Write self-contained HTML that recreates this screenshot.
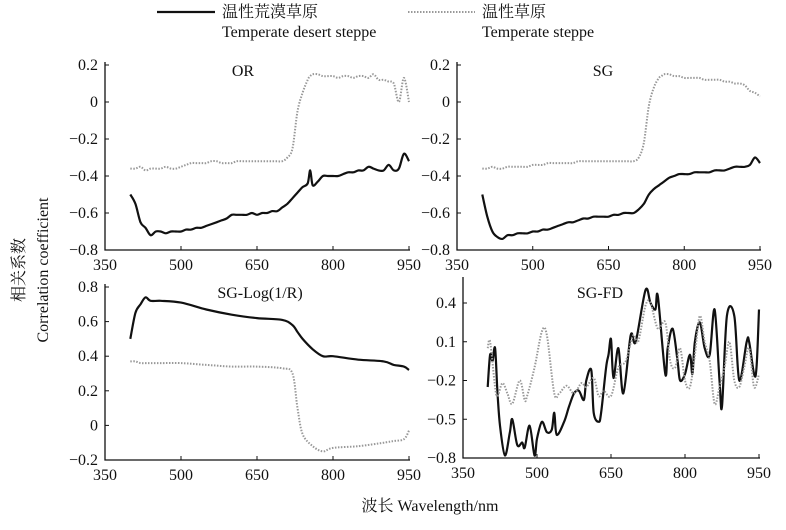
<!DOCTYPE html>
<html><head><meta charset="utf-8"><style>
body{margin:0;background:#fff}
svg text{font-family:"Liberation Serif","Noto Serif CJK SC",serif;fill:#111}
</style></head><body>
<svg id="c" width="786" height="525"></svg>
<script>
const xTicks=[350,500,650,800,950];
const orX=[400,410,420,430,440,450,460,470,480,490,500,510,520,530,540,550,560,570,580,590,600,610,620,630,640,650,660,670,680,690,700,710,720,730,740,750,755,760,770,780,790,800,810,820,830,840,850,860,870,880,890,900,910,920,930,940,950];
const orDesert=[-0.50,-0.55,-0.65,-0.68,-0.72,-0.70,-0.70,-0.71,-0.70,-0.70,-0.70,-0.69,-0.69,-0.68,-0.68,-0.67,-0.66,-0.65,-0.64,-0.63,-0.61,-0.61,-0.61,-0.61,-0.60,-0.61,-0.60,-0.60,-0.59,-0.59,-0.57,-0.55,-0.52,-0.49,-0.46,-0.44,-0.37,-0.45,-0.43,-0.40,-0.40,-0.40,-0.40,-0.39,-0.38,-0.38,-0.37,-0.37,-0.35,-0.36,-0.37,-0.37,-0.34,-0.37,-0.36,-0.28,-0.32];
const orSteppe=[-0.36,-0.36,-0.35,-0.37,-0.36,-0.36,-0.36,-0.35,-0.36,-0.36,-0.35,-0.34,-0.33,-0.33,-0.33,-0.33,-0.32,-0.32,-0.33,-0.33,-0.33,-0.32,-0.32,-0.32,-0.32,-0.32,-0.32,-0.32,-0.32,-0.32,-0.32,-0.30,-0.25,-0.05,0.05,0.12,0.14,0.15,0.15,0.14,0.14,0.14,0.13,0.14,0.14,0.13,0.14,0.14,0.13,0.15,0.12,0.12,0.11,0.10,0.00,0.13,0.00];
const sgDesert=[-0.50,-0.62,-0.70,-0.73,-0.74,-0.72,-0.72,-0.71,-0.71,-0.71,-0.70,-0.70,-0.69,-0.69,-0.68,-0.67,-0.66,-0.65,-0.65,-0.64,-0.63,-0.63,-0.62,-0.62,-0.62,-0.62,-0.61,-0.61,-0.60,-0.60,-0.60,-0.58,-0.55,-0.50,-0.47,-0.45,-0.44,-0.43,-0.41,-0.40,-0.39,-0.39,-0.39,-0.38,-0.38,-0.38,-0.38,-0.37,-0.37,-0.37,-0.36,-0.35,-0.35,-0.35,-0.34,-0.30,-0.33];
const sgSteppe=[-0.36,-0.36,-0.35,-0.36,-0.36,-0.35,-0.35,-0.35,-0.35,-0.35,-0.34,-0.34,-0.34,-0.33,-0.33,-0.33,-0.33,-0.33,-0.33,-0.32,-0.32,-0.32,-0.32,-0.32,-0.32,-0.32,-0.32,-0.32,-0.32,-0.32,-0.32,-0.30,-0.22,-0.02,0.08,0.13,0.14,0.15,0.15,0.14,0.14,0.13,0.13,0.13,0.13,0.12,0.12,0.12,0.12,0.11,0.11,0.10,0.10,0.09,0.06,0.05,0.03];
const logX=[400,410,420,430,440,460,500,550,600,650,700,720,730,740,760,780,800,850,900,920,940,950];
const logDesert=[0.50,0.65,0.70,0.74,0.72,0.72,0.71,0.67,0.64,0.62,0.61,0.58,0.54,0.50,0.44,0.40,0.40,0.38,0.37,0.35,0.34,0.32];
const logSteppe=[0.37,0.37,0.36,0.36,0.36,0.36,0.36,0.35,0.34,0.34,0.33,0.30,0.10,-0.05,-0.12,-0.15,-0.13,-0.12,-0.10,-0.09,-0.08,-0.03];
const fdDX=[400,405,410,415,420,425,435,445,450,460,470,475,485,495,500,510,520,530,535,540,555,565,575,585,595,600,610,615,625,630,640,645,650,655,665,675,690,700,720,730,740,745,760,765,775,785,790,800,810,815,820,830,840,850,860,870,875,885,900,910,925,930,940,945,950];
const fdDesert=[-0.25,0.0,-0.05,0.05,-0.3,-0.55,-0.78,-0.6,-0.5,-0.7,-0.68,-0.72,-0.55,-0.78,-0.65,-0.52,-0.6,-0.58,-0.45,-0.62,-0.52,-0.4,-0.3,-0.28,-0.35,-0.2,-0.12,-0.45,-0.52,-0.45,-0.1,0.0,0.12,-0.18,0.05,-0.3,0.15,0.1,0.5,0.4,0.35,0.45,-0.15,0.05,0.2,-0.05,-0.2,-0.15,0.0,-0.15,0.1,0.25,0.05,0.0,0.35,-0.2,-0.4,0.3,0.3,-0.2,0.1,0.1,-0.15,-0.1,0.35];
const fdSX=[400,405,415,420,430,440,450,465,475,480,495,510,520,535,545,560,575,590,600,615,625,635,650,665,680,695,705,720,730,745,760,770,780,790,800,810,820,830,840,850,860,870,880,890,900,910,920,930,940,950];
const fdSteppe=[0.05,0.1,-0.25,-0.32,-0.22,-0.3,-0.38,-0.2,-0.35,-0.32,-0.1,0.18,0.15,-0.3,-0.3,-0.24,-0.3,-0.22,-0.25,-0.18,-0.32,-0.28,-0.32,-0.1,-0.05,0.15,0.1,0.38,0.4,0.2,0.25,-0.05,-0.1,0.05,-0.2,-0.25,0.0,0.3,0.1,-0.05,-0.38,-0.25,-0.1,0.1,-0.2,-0.25,-0.1,0.05,-0.25,-0.15];

const NS='http://www.w3.org/2000/svg';
const svg=document.getElementById('c');
function mk(t,a,p){const e=document.createElementNS(NS,t);for(const k in a)e.setAttribute(k,a[k]);(p||svg).appendChild(e);return e;}
function smooth(pts){
 let d='M'+pts[0][0].toFixed(1)+','+pts[0][1].toFixed(1);
 for(let i=0;i<pts.length-1;i++){
  const p0=pts[i-1]||pts[i],p1=pts[i],p2=pts[i+1],p3=pts[i+2]||p2;
  const c1=[p1[0]+(p2[0]-p0[0])/6,p1[1]+(p2[1]-p0[1])/6];
  const c2=[p2[0]-(p3[0]-p1[0])/6,p2[1]-(p3[1]-p1[1])/6];
  d+='C'+c1.map(v=>v.toFixed(1))+' '+c2.map(v=>v.toFixed(1))+' '+p2.map(v=>v.toFixed(1));
 }
 return d;
}
const panels=[
 {name:'or',title:'OR',tx:243,ty:76,x0:105,x1:409,yTop:65,yBot:250,ymin:-0.8,ymax:0.2,yt:[0.2,0,-0.2,-0.4,-0.6,-0.8],yl:['0.2','0','−0.2','−0.4','−0.6','−0.8'],axTop:62,s:[[orX,orDesert,'d'],[orX,orSteppe,'s']]},
 {name:'sg',title:'SG',tx:603,ty:76,x0:457,x1:760,yTop:65,yBot:250,ymin:-0.8,ymax:0.2,yt:[0.2,0,-0.2,-0.4,-0.6,-0.8],yl:['0.2','0','−0.2','−0.4','−0.6','−0.8'],axTop:62,s:[[orX,sgDesert,'d'],[orX,sgSteppe,'s']]},
 {name:'sg-log',title:'SG-Log(1/R)',tx:260,ty:298,x0:105,x1:409,yTop:287,yBot:460,ymin:-0.2,ymax:0.8,yt:[0.8,0.6,0.4,0.2,0,-0.2],yl:['0.8','0.6','0.4','0.2','0','−0.2'],axTop:284,s:[[logX,logDesert,'d'],[logX,logSteppe,'s']]},
 {name:'sg-fd',title:'SG-FD',tx:600,ty:298,x0:463,x1:759,yTop:303,yBot:458,ymin:-0.8,ymax:0.4,yt:[0.4,0.1,-0.2,-0.5,-0.8],yl:['0.4','0.1','−0.2','−0.5','−0.8'],axTop:277,s:[[fdDX,fdDesert,'d'],[fdSX,fdSteppe,'s']]}
];
panels.forEach(p=>{
 const g=mk('g',{});
 
 
 const X=v=>p.x0+(v-350)/600*(p.x1-p.x0);
 const Y=v=>p.yBot-(v-p.ymin)/(p.ymax-p.ymin)*(p.yBot-p.yTop);
 const ax=mk('path',{d:`M${p.x0},${p.axTop}V${p.yBot}H${p.x1+1}`,stroke:'#111','stroke-width':1.3,fill:'none'},g);
 
 
 xTicks.forEach(t=>{
  mk('line',{x1:X(t),x2:X(t),y1:p.yBot,y2:p.yBot-4,stroke:'#111'},g);
  const tx=mk('text',{x:X(t),y:p.yBot+20,'text-anchor':'middle','font-size':16},g);
  
  
  tx.textContent=t;
 });
 p.yt.forEach((t,i)=>{
  mk('line',{x1:p.x0,x2:p.x0+4,y1:Y(t),y2:Y(t),stroke:'#111'},g);
  const tx=mk('text',{x:p.x0-7,y:Y(t)+5,'text-anchor':'end','font-size':16},g);
  
  
  tx.textContent=p.yl[i];
 });
 const tt=mk('text',{x:p.tx,y:p.ty,'text-anchor':'middle','font-size':16},g);
 
 
 tt.textContent=p.title;
 p.s.forEach(([xs,ys,k])=>{
  const d=smooth(xs.map((x,i)=>[X(x),Y(ys[i])]));
  const ln=mk('path',{d:d,fill:'none',stroke:k=='d'?'#111':'#999','stroke-width':k=='d'?2.2:2,'stroke-dasharray':k=='d'?'none':'1.5,1.5','stroke-linejoin':'round'},g);
  
  
 });
});
</script>
<svg width="786" height="525" style="position:absolute;left:0;top:0">
 <g>
  <line x1="157" y1="12" x2="215" y2="12" stroke="#111" stroke-width="2.2"/>
  <text x="222" y="17" font-size="16">温性荒漠草原</text>
  <text x="222" y="37" font-size="16">Temperate desert steppe</text>
  <line x1="408" y1="12" x2="475" y2="12" stroke="#999" stroke-width="2" stroke-dasharray="1.5,1.5"/>
  <text x="482" y="17" font-size="16">温性草原</text>
  <text x="482" y="37" font-size="16">Temperate steppe</text>
 </g>
 <text transform="translate(24,270) rotate(-90)" text-anchor="middle" font-size="16">相关系数</text>
 <text transform="translate(48,270) rotate(-90)" text-anchor="middle" font-size="16">Correlation coefficient</text>
 <text x="430" y="511" text-anchor="middle" font-size="16">波长 Wavelength/nm</text>
</svg>
</body></html>
